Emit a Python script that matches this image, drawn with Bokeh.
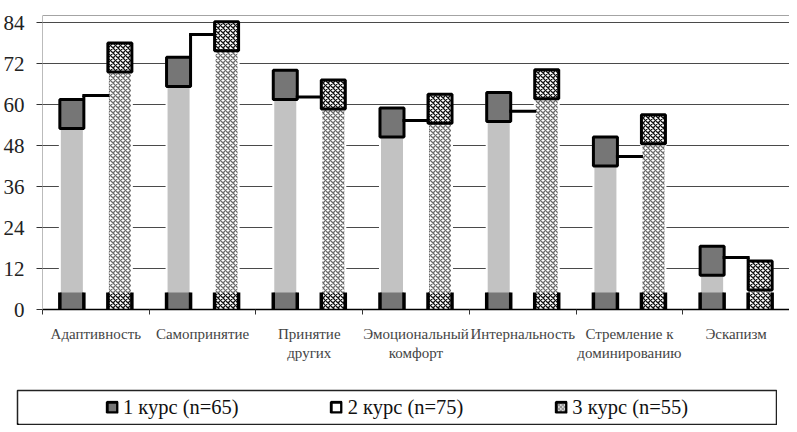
import numpy as np
from bokeh.plotting import figure
from bokeh.models import Range1d, FixedTicker, Legend, LegendItem
from bokeh.embed import file_html
from bokeh.resources import INLINE

# ---- data ----
categories = ["Адаптивность", "Самопринятие", "Принятие\nдругих", "Эмоциональный\nкомфорт",
              "Интернальность", "Стремление к\nдоминированию", "Эскапизм"]
course1 = [61.5, 73.8, 70.0, 59.0, 63.5, 50.5, 18.5]
course2 = [62.6, 80.5, 62.2, 55.3, 58.0, 44.8, 15.2]
course3 = [78.0, 84.2, 67.2, 63.0, 70.2, 57.0, 14.2]
series_names = ["1 курс (n=65)", "2 курс (n=75)", "3 курс (n=55)"]
y_ticks = [0, 12, 24, 36, 48, 60, 72, 84]

# ---- style constants ----
SERIF = "Liberation Serif"
W = 0.225      # bar width (category units)
CAP = 8.5      # dark cap height (value units)
BASE = 5       # dark base height (value units)
DARK = "#767676"
LIGHT = "#c2c2c2"
HATCH = dict(hatch_pattern="x", hatch_scale=5)

n = len(categories)
centers = np.arange(n) + 0.5
s1 = np.array(course1)
s2 = np.array(course2)
s3 = np.array(course3)
x1 = centers - W
x2 = centers
x3 = centers + W

p = figure(width=789, height=381, x_range=Range1d(0, n), y_range=Range1d(0, 86.05),
           output_backend="svg", toolbar_location=None,
           min_border_left=42, min_border_right=0, min_border_top=15, min_border_bottom=72)
p.outline_line_color = None
p.background_fill_color = "white"

# grid
p.xgrid.visible = False
p.ygrid.ticker = FixedTicker(ticks=y_ticks[1:] + [86.0])
p.ygrid.grid_line_color = "#4a4a4a"
p.ygrid.grid_line_width = 1

# series 2 (white)
p.vbar(x=x2, top=s2, bottom=0, width=W, fill_color="white", line_color=None)

# series 1 body
p.vbar(x=x1, top=s1, bottom=0, width=W, fill_color=LIGHT, line_color="white", line_width=2)
# series 3 body
p.vbar(x=x3, top=s3, bottom=0, width=W, fill_color="white", line_color="white", line_width=2,
       hatch_color="#6a6a6a", hatch_weight=1.3, **HATCH)

# dark caps
p.vbar(x=x1, top=s1, bottom=s1 - CAP, width=W, fill_color=DARK, line_color="black", line_width=3)
p.vbar(x=x3, top=s3, bottom=s3 - CAP, width=W, fill_color="white", line_color="black", line_width=3,
       hatch_color="#111111", hatch_weight=1.3, **HATCH)
# dark bases (outlined on the sides only)
p.vbar(x=x1, top=BASE, bottom=0, width=W, fill_color=DARK, line_color=None)
p.vbar(x=x3, top=BASE, bottom=0, width=W, fill_color="white", line_color=None,
       hatch_color="#111111", hatch_weight=1.3, **HATCH)
for xs in (x1, x3):
    for side in (-W / 2, W / 2):
        p.segment(x0=xs + side, x1=xs + side, y0=np.zeros(n), y1=np.full(n, BASE),
                  line_color="black", line_width=3.5)

# series 2 outline (top and step verticals)
p.segment(x0=x2 - W / 2, x1=x2 + W / 2, y0=s2, y1=s2, line_color="black", line_width=3, line_cap="square")
p.segment(x0=x2 - W / 2, x1=x2 - W / 2, y0=np.minimum(s1, s2), y1=s2, line_color="black", line_width=3)
p.segment(x0=x2 + W / 2, x1=x2 + W / 2, y0=np.minimum(s3, s2), y1=s2, line_color="black", line_width=3)

# axes
xa = p.xaxis[0]
xa.ticker = FixedTicker(ticks=list(centers), minor_ticks=list(range(n + 1)))
xa.major_label_overrides = {float(c): lab for c, lab in zip(centers, categories)}
xa.major_tick_line_color = None
xa.minor_tick_out = 5
xa.minor_tick_in = 0
xa.minor_tick_line_color = "#333333"
xa.axis_line_color = "black"
xa.axis_line_width = 1.5
xa.major_label_text_font = SERIF
xa.major_label_text_font_size = "15px"
xa.major_label_text_color = "#444444"
xa.major_label_standoff = 10

ya = p.yaxis[0]
ya.ticker = FixedTicker(ticks=y_ticks)
ya.minor_tick_line_color = None
ya.major_tick_out = 6
ya.major_tick_in = 0
ya.major_tick_line_color = "#333333"
ya.axis_line_color = "#bbbbbb"
ya.major_label_text_font = SERIF
ya.major_label_text_font_size = "21px"
ya.major_label_text_color = "#222222"
ya.major_label_standoff = 12

# ---- legend panel (separate root, so its frame is not aligned with the chart's) ----
pl = figure(width=761, height=36, x_range=Range1d(0, 1), y_range=Range1d(0, 1),
            x_axis_type=None, y_axis_type=None,
            output_backend="svg", toolbar_location=None,
            min_border=1, min_border_left=1, min_border_right=1, min_border_top=1, min_border_bottom=1,
            margin=(8, 0, 0, 16))
pl.grid.visible = False
pl.outline_line_color = "#222222"
pl.outline_line_width = 1.5

# placeholder glyphs (outside the visible range) that only feed the legend
r1 = pl.vbar(x=[-5], top=[-5], width=0.1, fill_color=DARK, line_color="black", line_width=3)
r2 = pl.vbar(x=[-5], top=[-5], width=0.1, fill_color="white", line_color="black", line_width=3)
r3 = pl.vbar(x=[-5], top=[-5], width=0.1, fill_color="white", line_color="black", line_width=3,
             hatch_pattern="x", hatch_color="#222222", hatch_scale=4, hatch_weight=1)
legend = Legend(items=[LegendItem(label=series_names[0], renderers=[r1]),
                       LegendItem(label=series_names[1], renderers=[r2]),
                       LegendItem(label=series_names[2], renderers=[r3])],
                orientation="horizontal", location="center", spacing=91,
                glyph_width=13, glyph_height=13, label_standoff=5,
                label_text_font=SERIF, label_text_font_size="20.5px", label_text_color="#111111",
                border_line_color=None, background_fill_alpha=0, padding=0, margin=0)
pl.add_layout(legend)

open("out.html", "w").write(file_html([p, pl], INLINE))
